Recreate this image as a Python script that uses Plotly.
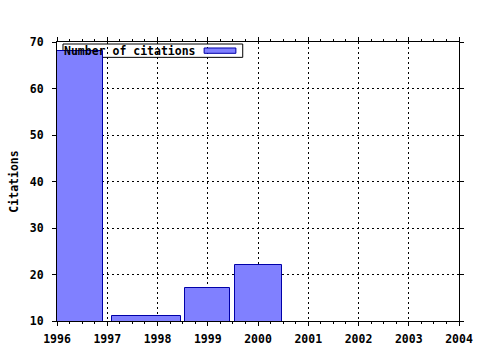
import plotly.graph_objects as go

# Data
bar_centers = [1996.0, 1997.78, 1999.0, 2000.01]
citations = [68, 11, 17, 22]
bar_widths = [1.82, 1.36, 0.9, 0.92]
x_ticks = [1996, 1997, 1998, 1999, 2000, 2001, 2002, 2003, 2004]
y_ticks = [10, 20, 30, 40, 50, 60, 70]
series_name = "Number of citations"

FILL = "#8080ff"
EDGE = "#0000a8"
FONT = dict(family="DejaVu Sans Mono", size=11.5, color="black", weight="bold")

fig = go.Figure()
fig.add_trace(go.Bar(
    x=bar_centers, y=citations, width=bar_widths,
    marker=dict(color=FILL, line=dict(color=EDGE, width=1)),
    name=series_name, showlegend=False,
))

axis_common = dict(
    showline=True, linecolor="black", linewidth=1, mirror="ticks",
    showgrid=True, gridcolor="black", griddash="2px,3px", gridwidth=1,
    ticks="outside", ticklen=4, tickcolor="black", tickwidth=1,
    tickfont=FONT, zeroline=False, automargin=False,
)

fig.update_xaxes(
    range=[1996, 2004], tickvals=x_ticks, ticktext=[str(t) for t in x_ticks],
    minor=dict(dtick=0.25, ticks="outside", ticklen=2, tickcolor="black", showgrid=False),
    ticklabelstandoff=3,
    **axis_common,
)
fig.update_yaxes(
    range=[10, 70], tickvals=y_ticks,
    title=dict(text="Citations", font=FONT, standoff=8),
    ticklabelstandoff=6,
    **axis_common,
)

# Legend drawn manually (box behind bars, as in reference)
fig.add_shape(type="rect", xref="paper", yref="paper",
              x0=0.0149, x1=0.462, y0=0.945, y1=0.9928,
              fillcolor="white", line=dict(color="black", width=1), layer="between")
fig.add_shape(type="rect", xref="paper", yref="paper",
              x0=0.366, x1=0.445, y0=0.9595, y1=0.9785,
              fillcolor=FILL, line=dict(color=EDGE, width=1), layer="above")
fig.add_annotation(text=series_name, xref="paper", yref="paper",
                   x=0.012, y=0.9695, xanchor="left", yanchor="middle",
                   showarrow=False, font=FONT)

fig.update_layout(
    width=480, height=350,
    margin=dict(l=57, r=21, t=42, b=29),
    paper_bgcolor="white", plot_bgcolor="white",
    bargap=0,
)

fig.write_html("out.html")
